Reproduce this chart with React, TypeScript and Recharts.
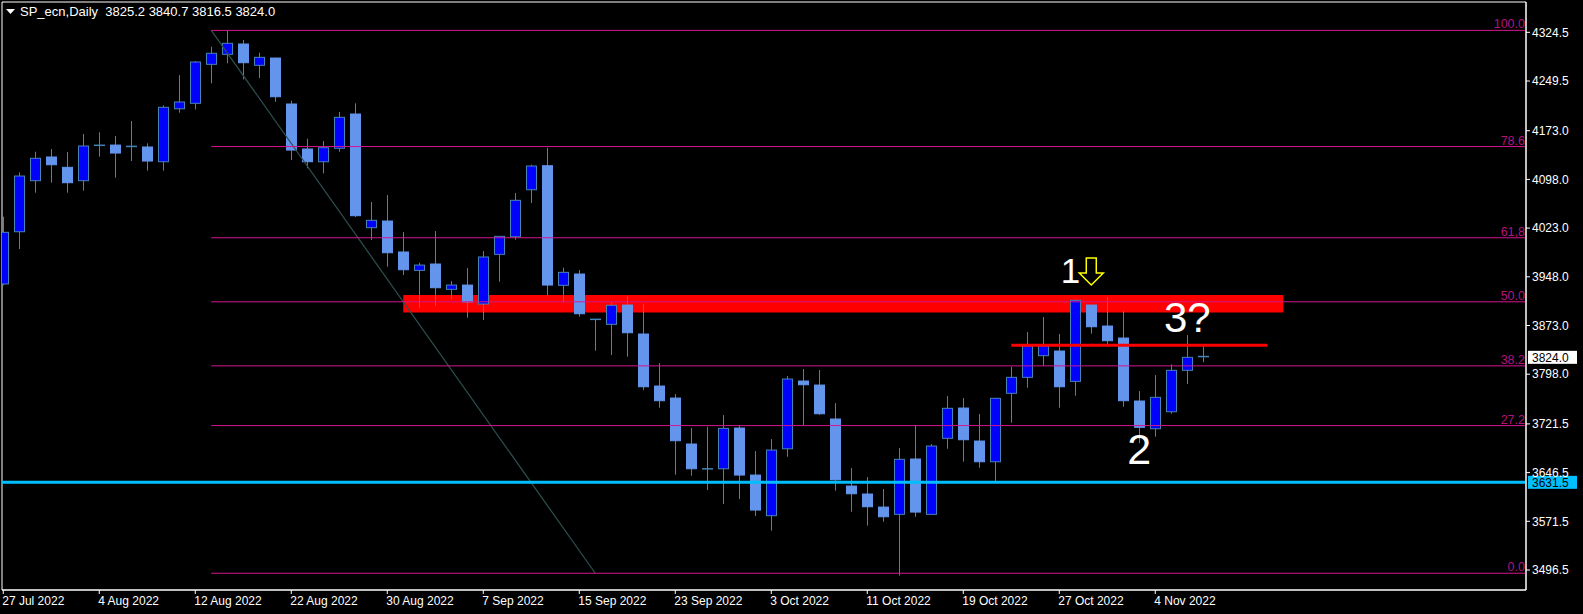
import {
  ComposedChart,
  Bar,
  XAxis,
  YAxis,
  ReferenceLine,
  ReferenceArea,
  ReferenceDot,
} from 'recharts'

// daily OHLC, 27 Jul 2022 .. 9 Nov 2022 (bar index = position)
const OPEN = [
  3937.0, 4017.4, 4096.0, 4132.5, 4116.6, 4096.0, 4149.3, 4150.9, 4147.8, 4147.9,
  4125.2, 4206.8, 4215.2, 4275.2, 4290.6, 4306.5, 4273.7, 4284.9, 4214.1, 4144.8,
  4125.2, 4145.9, 4198.7, 4023.6, 4033.9, 3986.2, 3957.9, 3967.7, 3928.7, 3935.3,
  3906.1, 3982.6, 4009.7, 4082.1, 4119.1, 3934.9, 3952.3, 3882.5, 3874.8, 3904.5,
  3859.9, 3779.8, 3761.3, 3690.5, 3652.3, 3652.4, 3715.1, 3642.7, 3580.1, 3683.2,
  3787.5, 3781.3, 3729.0, 3625.8, 3613.5, 3593.4, 3582.2, 3667.4, 3582.2, 3699.3,
  3745.9, 3695.1, 3663.2, 3768.6, 3793.2, 3826.5, 3833.7, 3787.0, 3904.5, 3872.2,
  3853.7, 3756.7, 3714.0, 3740.2, 3804.0, 3825.2,
]
const HIGH = [
  4040.5, 4108.9, 4140.6, 4144.8, 4140.2, 4167.9, 4170.5, 4164.8, 4187.9, 4153.6,
  4212.1, 4258.7, 4280.3, 4302.3, 4327.0, 4312.6, 4293.1, 4285.5, 4219.2, 4160.6,
  4157.1, 4201.8, 4215.2, 4063.2, 4074.0, 4017.0, 3969.7, 4018.5, 3941.5, 3961.5,
  3987.7, 4010.8, 4077.0, 4120.6, 4146.8, 3962.0, 3958.4, 3883.0, 3908.1, 3918.9,
  3906.5, 3815.2, 3767.5, 3715.1, 3717.1, 3735.1, 3719.7, 3679.7, 3698.2, 3795.2,
  3806.0, 3804.4, 3753.6, 3653.5, 3639.6, 3621.2, 3684.3, 3719.7, 3690.5, 3764.4,
  3761.3, 3736.7, 3761.5, 3809.5, 3863.0, 3886.1, 3859.9, 3913.3, 3905.0, 3916.9,
  3895.3, 3772.1, 3796.7, 3813.2, 3858.3, 3840.7,
]
const LOW = [
  3935.0, 3990.8, 4077.5, 4092.9, 4077.5, 4080.6, 4132.9, 4100.6, 4126.3, 4111.4,
  4111.4, 4200.7, 4205.9, 4246.0, 4276.8, 4252.1, 4254.1, 4217.6, 4127.8, 4115.1,
  4107.4, 4140.6, 4040.1, 4004.6, 3963.5, 3950.7, 3900.4, 3903.5, 3913.3, 3885.0,
  3881.4, 3940.4, 4005.1, 4061.6, 3918.9, 3908.7, 3886.5, 3834.2, 3827.5, 3824.9,
  3773.6, 3746.4, 3643.2, 3641.7, 3619.6, 3598.1, 3605.8, 3579.6, 3557.0, 3670.9,
  3719.7, 3735.6, 3618.6, 3586.2, 3564.7, 3570.8, 3487.7, 3578.5, 3581.5, 3683.2,
  3663.2, 3654.0, 3632.4, 3723.3, 3777.2, 3811.0, 3746.4, 3764.9, 3860.3, 3844.5,
  3747.9, 3691.6, 3701.7, 3737.1, 3782.9, 3816.5,
]
const CLOSE = [
  4016.5, 4103.2, 4130.5, 4120.6, 4092.9, 4149.4, 4150.5, 4138.6, 4148.8, 4126.3,
  4209.0, 4217.2, 4278.8, 4292.2, 4307.6, 4277.7, 4286.0, 4225.3, 4143.2, 4125.2,
  4146.8, 4193.6, 4042.1, 4035.0, 3985.1, 3958.9, 3966.1, 3931.2, 3935.3, 3909.2,
  3978.5, 4010.3, 4065.8, 4118.6, 3935.3, 3954.9, 3891.1, 3881.5, 3904.1, 3861.9,
  3778.7, 3757.2, 3695.6, 3652.4, 3651.0, 3714.6, 3642.7, 3588.8, 3681.2, 3790.6,
  3781.8, 3737.1, 3635.5, 3613.9, 3593.9, 3578.5, 3666.9, 3585.7, 3687.4, 3745.5,
  3697.1, 3663.2, 3760.9, 3793.2, 3841.4, 3841.4, 3778.7, 3911.8, 3871.1, 3849.6,
  3757.2, 3716.2, 3762.4, 3804.0, 3824.0, 3824.0,
]

const DATE_TICKS = [0, 6, 12, 18, 24, 30, 36, 42, 48, 54, 60, 66, 72]
const DATE_LABELS = [
  '27 Jul 2022', '4 Aug 2022', '12 Aug 2022', '22 Aug 2022', '30 Aug 2022', '7 Sep 2022',
  '15 Sep 2022', '23 Sep 2022', '3 Oct 2022', '11 Oct 2022', '19 Oct 2022', '27 Oct 2022',
  '4 Nov 2022',
]
const PRICE_TICKS = [
  4324.5, 4249.5, 4173.0, 4098.0, 4023.0, 3948.0, 3873.0, 3798.0, 3721.5, 3646.5, 3571.5, 3496.5,
]

// fibonacci retracement
const FIB_HIGH = 4327.5
const FIB_LOW = 3491.5
const FIB_START = 13
const FIB_END = 37
const FIB_LEVELS = [100, 78.6, 61.8, 50, 38.2, 27.2, 0]
const FIB_LABELS = ['100.0', '78.6', '61,8', '50.0', '38.2', '27.2', '0.0']

// drawn objects
const ZONE = { x1: 25, x2: 80, y1: 3893, y2: 3920 }
const NECK = { x1: 63, x2: 79, y: 3842.5 }
const SUPPORT = 3631.5
const LAST_PRICE = 3824.0
const MARKS = [
  { x: 66.7, y: 3938.5, text: '1', size: 35 },
  { x: 71, y: 3659.7, text: '2', size: 43 },
  { x: 74, y: 3863.5, text: '3?', size: 42 },
]
const ARROW = { x: 68, y: 3935.4 }

const X_MIN = -0.08
const X_MAX = 95.17
const Y_MIN = 3465.7
const Y_MAX = 4371.2

const FONT = '"Liberation Sans", Arial, sans-serif'
const BULL = '#0000ff'
const BEAR = '#6495ed'
const WICK = '#4682b4'
const FIB_COLOR = '#d4168e'
const FIB_TEXT = '#b3137f'

const data = OPEN.map((o, i) => ({ i, o, h: HIGH[i], l: LOW[i], c: CLOSE[i] }))

function Candle(props: any) {
  const { x, y, width, height, payload } = props
  const { o, h, l, c } = payload
  const top = Math.min(y, y + height)
  const span = Math.abs(height)
  const py = (v: number) => top + ((h - v) / (h - l)) * span
  const left = Math.round(x + width / 2) - 5
  const mid = left + 5.5
  const bull = c >= o
  const bTop = py(Math.max(o, c))
  const bBot = py(Math.min(o, c))
  const flat = bBot - bTop < 1.5
  return (
    <g>
      <line x1={mid} x2={mid} y1={py(h)} y2={py(l)} stroke={WICK} strokeWidth={1} />
      {flat ? (
        <line x1={left} x2={left + 11} y1={bTop} y2={bTop} stroke={WICK} strokeWidth={1.5} />
      ) : (
        <rect
          x={left + 0.5}
          y={bTop}
          width={10}
          height={bBot - bTop}
          fill={bull ? BULL : BEAR}
          stroke={bull ? WICK : BEAR}
          strokeWidth={1}
        />
      )}
    </g>
  )
}

function DateTick({ x, y, payload }: any) {
  const idx = DATE_TICKS.indexOf(payload.value)
  return (
    <text x={x - 1} y={y + 9} fill="#fff" fontSize={12} fontFamily={FONT} textAnchor="start">
      {DATE_LABELS[idx]}
    </text>
  )
}

function PriceBox({ cx, cy, text, bg }: any) {
  return (
    <g>
      <rect x={cx + 2} y={cy - 6.5} width={49} height={13} fill={bg} />
      <text x={cx + 6} y={cy} dy="0.36em" fill="#000" fontSize={12} fontFamily={FONT}>
        {text}
      </text>
    </g>
  )
}

function App() {
  return (
    <div style={{ position: 'fixed', left: 0, top: 0, width: 1583, height: 614, background: '#000' }}>
      <ComposedChart
        width={1583}
        height={614}
        data={data}
        margin={{ top: 2, right: 0, bottom: 0, left: 2 }}
        style={{ background: '#000' }}
      >
        <XAxis
          type="number"
          dataKey="i"
          domain={[X_MIN, X_MAX]}
          allowDataOverflow
          ticks={DATE_TICKS}
          interval={0}
          height={24}
          tickSize={4}
          axisLine={{ stroke: '#fff' }}
          tickLine={{ stroke: '#fff' }}
          tick={<DateTick />}
        />
        <YAxis
          orientation="right"
          domain={[Y_MIN, Y_MAX]}
          allowDataOverflow
          ticks={PRICE_TICKS}
          interval={0}
          width={57}
          tickSize={4}
          axisLine={{ stroke: '#fff' }}
          tickLine={{ stroke: '#fff' }}
          tick={{ fill: '#fff', fontSize: 12, fontFamily: FONT }}
          tickFormatter={(v: number) => v.toFixed(1)}
        />

        <ReferenceArea
          x1={ZONE.x1}
          x2={ZONE.x2}
          y1={ZONE.y1}
          y2={ZONE.y2}
          fill="#ff0000"
          fillOpacity={1}
          stroke="none"
        />

        <Bar
          dataKey={(d: any) => [d.l, d.h]}
          barSize={11}
          isAnimationActive={false}
          shape={(p: any) => <Candle {...p} />}
        />

        <ReferenceLine
          segment={[
            { x: FIB_START, y: FIB_HIGH },
            { x: FIB_END, y: FIB_LOW },
          ]}
          stroke="#2f4f4f"
          strokeWidth={1.2}
          ifOverflow="visible"
        />
        {FIB_LEVELS.map((lv) => {
          const price = FIB_LOW + ((FIB_HIGH - FIB_LOW) * lv) / 100
          return (
            <ReferenceLine
              key={`fib-${lv}`}
              segment={[
                { x: FIB_START, y: price },
                { x: X_MAX, y: price },
              ]}
              stroke={FIB_COLOR}
              strokeWidth={1}
              ifOverflow="visible"
            />
          )
        })}
        <ReferenceLine y={SUPPORT} stroke="#00bfff" strokeWidth={3} />
        <ReferenceLine
          segment={[
            { x: NECK.x1, y: NECK.y },
            { x: NECK.x2, y: NECK.y },
          ]}
          stroke="#ff0000"
          strokeWidth={3}
        />

        {FIB_LEVELS.map((lv, k) => {
          const price = FIB_LOW + ((FIB_HIGH - FIB_LOW) * lv) / 100
          return (
            <ReferenceDot
              key={`fibl-${lv}`}
              x={X_MAX}
              y={price}
              r={0}
              ifOverflow="visible"
              shape={(p: any) => (
                <text
                  x={p.cx - 1}
                  y={p.cy - 2}
                  textAnchor="end"
                  fill={FIB_TEXT}
                  fontSize={12.5}
                  fontFamily={FONT}
                >
                  {FIB_LABELS[k]}
                </text>
              )}
            />
          )
        })}

        {MARKS.map((m) => (
          <ReferenceDot
            key={m.text}
            x={m.x}
            y={m.y}
            r={0}
            ifOverflow="visible"
            shape={(p: any) => (
              <text
                x={p.cx}
                y={p.cy}
                textAnchor="middle"
                fill="#fff"
                fontSize={m.size}
                fontFamily={FONT}
              >
                {m.text}
              </text>
            )}
          />
        ))}
        <ReferenceDot
          x={ARROW.x}
          y={ARROW.y}
          r={0}
          ifOverflow="visible"
          shape={(p: any) => {
            const { cx, cy } = p
            const pts = [
              [cx - 5, cy - 27],
              [cx + 5, cy - 27],
              [cx + 5, cy - 12],
              [cx + 12, cy - 12],
              [cx, cy],
              [cx - 12, cy - 12],
              [cx - 5, cy - 12],
            ]
              .map((q) => q.join(','))
              .join(' ')
            return <polygon points={pts} fill="#000" stroke="#ffff00" strokeWidth={1.5} />
          }}
        />

        <ReferenceDot
          x={X_MAX}
          y={LAST_PRICE}
          r={0}
          ifOverflow="visible"
          shape={(p: any) => <PriceBox cx={p.cx} cy={p.cy} text={LAST_PRICE.toFixed(1)} bg="#fff" />}
        />
        <ReferenceDot
          x={X_MAX}
          y={SUPPORT}
          r={0}
          ifOverflow="visible"
          shape={(p: any) => <PriceBox cx={p.cx} cy={p.cy} text={SUPPORT.toFixed(1)} bg="#00bfff" />}
        />

        <ReferenceArea
          x1={X_MIN}
          x2={X_MAX}
          y1={Y_MIN}
          y2={Y_MAX}
          fill="none"
          stroke="#fff"
          strokeWidth={1}
          ifOverflow="visible"
        />
      </ComposedChart>

      <div
        style={{
          position: 'absolute',
          left: 6,
          top: 4,
          color: '#fff',
          fontFamily: FONT,
          fontSize: 13,
          whiteSpace: 'pre',
          display: 'flex',
          alignItems: 'center',
          gap: 5,
        }}
      >
        <svg width={9} height={6}>
          <polygon points="0,0 9,0 4.5,5" fill="#fff" />
        </svg>
        <span>{`SP_ecn,Daily  ${OPEN[75].toFixed(1)} ${HIGH[75].toFixed(1)} ${LOW[75].toFixed(1)} ${CLOSE[75].toFixed(1)}`}</span>
      </div>
    </div>
  )
}

export default App
